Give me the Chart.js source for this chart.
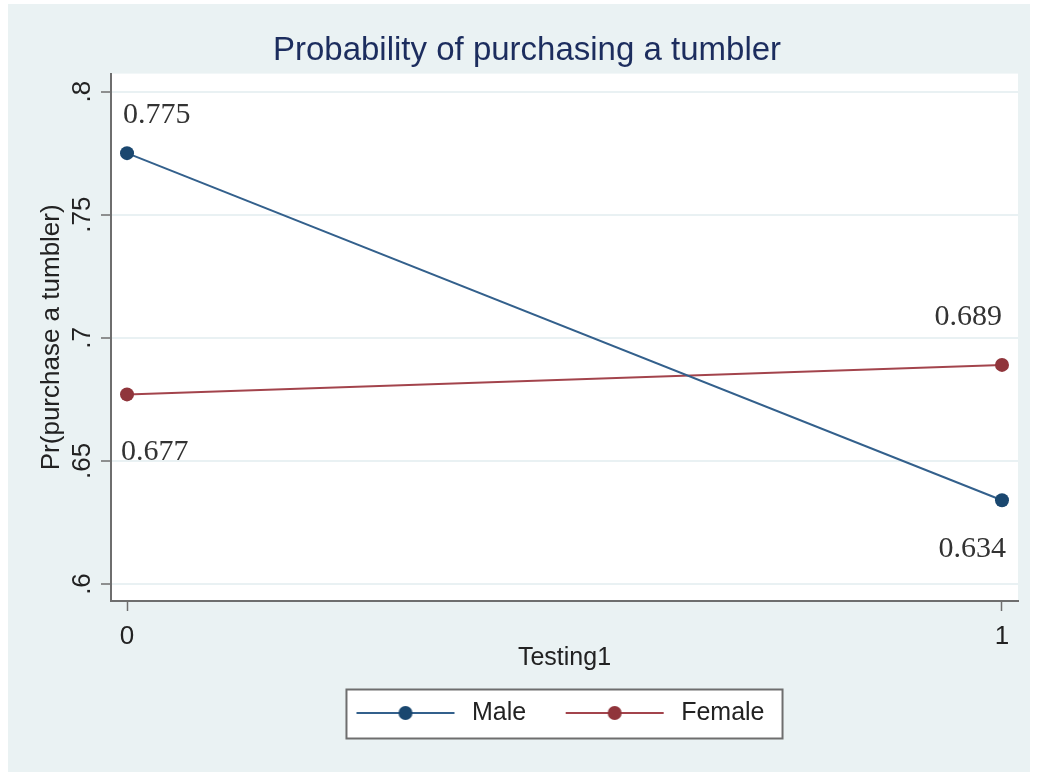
<!DOCTYPE html>
<html>
<head>
<meta charset="utf-8">
<title>Probability of purchasing a tumbler</title>
<script src="https://cdn.jsdelivr.net/npm/chart.js@4.4.1/dist/chart.umd.min.js"></script>
<style>
  html, body { margin: 0; padding: 0; background: #fff; }
  #wrap { position: absolute; left: 8px; top: 4px; width: 1022px; height: 768px; background: #eaf2f3; }
</style>
</head>
<body>
<div id="wrap"><canvas id="grafico" width="1022" height="768"></canvas></div>
<script>
// dados
const testing = [0, 1];
const maleValues = [0.775, 0.634];
const femaleValues = [0.677, 0.689];
const seriesNames = ['Male', 'Female'];
const yTicks = [0.6, 0.65, 0.7, 0.75, 0.8];
const yTickLabels = ['.6', '.65', '.7', '.75', '.8'];
const xTicks = [0, 1];
const xTickLabels = ['0', '1'];

// cores no estilo Stata
const markerColors = ['#1a476f', '#90353b'];
const lineColors = ['#33608c', '#a3444c'];
// posição dos rótulos de valor: [dx, dy, alinhamento]
const labelPlacement = [
  [[-4, -30, 'left'], [4, 57, 'right']],
  [[-6, 66, 'left'], [0, -40, 'right']]
];

Chart.defaults.font.family = '"Liberation Sans", Arial, sans-serif';

// ícone da legenda: linha com marcador no meio
function legendIcon(lineColor, dotColor) {
    const c = document.createElement('canvas');
    c.width = 123;
    c.height = 16;
    const g = c.getContext('2d');
    g.strokeStyle = lineColor;
    g.lineWidth = 2;
    g.beginPath();
    g.moveTo(20, 8);
    g.lineTo(118, 8);
    g.stroke();
    g.fillStyle = dotColor;
    g.beginPath();
    g.arc(69, 8, 7, 0, Math.PI * 2);
    g.fill();
    return c;
}
const legendIcons = [legendIcon(lineColors[0], markerColors[0]), legendIcon(lineColors[1], markerColors[1])];

// fundo branco da área do gráfico e caixa da legenda
const fundoPlugin = {
    id: 'fundo',
    afterLayout(chart) {
        // centraliza a legenda sob a área de plotagem
        chart.legend.left = chart.chartArea.left - 28;
        chart.legend.right = chart.chartArea.right;
    },
    beforeDraw(chart) {
        const { ctx, chartArea: a } = chart;
        ctx.save();
        ctx.fillStyle = '#fff';
        ctx.fillRect(a.left, a.top, a.right - a.left, a.bottom - a.top);
        const hb = chart.legend.legendHitBoxes;
        if (hb && hb.length) {
            const last = hb[hb.length - 1];
            const x0 = hb[0].left + 10, x1 = last.left + last.width + 18;
            const y0 = hb[0].top - 11, y1 = hb[0].top + hb[0].height + 13;
            ctx.fillRect(x0, y0, x1 - x0, y1 - y0);
            ctx.strokeStyle = '#6e6e6e';
            ctx.lineWidth = 2;
            ctx.strokeRect(x0, y0, x1 - x0, y1 - y0);
        }
        ctx.restore();
    }
};

// rótulos com os valores de cada ponto
const rotulosPlugin = {
    id: 'rotulos',
    afterDatasetsDraw(chart) {
        const ctx = chart.ctx;
        ctx.save();
        ctx.font = '30px "Liberation Serif", "Times New Roman", serif';
        ctx.fillStyle = '#333';
        ctx.textBaseline = 'alphabetic';
        chart.data.datasets.forEach((ds, d) => {
            chart.getDatasetMeta(d).data.forEach((pt, i) => {
                const [dx, dy, align] = labelPlacement[d][i];
                ctx.textAlign = align;
                ctx.fillText(ds.data[i].y.toFixed(3), pt.x + dx, pt.y + dy);
            });
        });
        ctx.restore();
    }
};

const eixoCor = '#6e6e6e';

const ctx = document.getElementById('grafico').getContext('2d');
const grafico = new Chart(ctx, {
    type: 'line',
    data: {
        datasets: [maleValues, femaleValues].map((vals, d) => ({
            label: seriesNames[d],
            data: testing.map((x, i) => ({ x: x, y: vals[i] })),
            borderColor: lineColors[d],
            borderWidth: 2,
            backgroundColor: markerColors[d],
            pointBackgroundColor: markerColors[d],
            pointBorderWidth: 0,
            pointRadius: 7,
            tension: 0,
            fill: false,
            clip: false
        }))
    },
    options: {
        responsive: false,
        animation: false,
        layout: { padding: { left: 28, right: 12, top: 0, bottom: 36.5 } },
        plugins: {
            title: {
                display: true,
                text: 'Probability of purchasing a tumbler',
                color: '#1c2d5e',
                font: { size: 33, weight: 'normal' },
                padding: { top: 27, bottom: 3 }
            },
            legend: {
                position: 'bottom',
                labels: {
                    usePointStyle: true,
                    pointStyleWidth: 123,
                    padding: 19.5,
                    color: '#222',
                    font: { size: 25 },
                    generateLabels(chart) {
                        const items = Chart.defaults.plugins.legend.labels.generateLabels(chart);
                        items.forEach((it, i) => { it.pointStyle = legendIcons[i]; });
                        return items;
                    }
                }
            },
            tooltip: { enabled: false }
        },
        scales: {
            x: {
                type: 'linear',
                min: -0.0183,
                max: 1.0183,
                afterBuildTicks: s => { s.ticks = xTicks.map(v => ({ value: v })); },
                afterFit: s => { s.height = 80; },
                ticks: {
                    callback: (v, i) => xTickLabels[i],
                    color: '#222',
                    font: { size: 26 },
                    padding: 10,
                    maxRotation: 0
                },
                grid: { drawOnChartArea: false, tickLength: 10, tickColor: eixoCor, tickWidth: 1.5 },
                border: { color: eixoCor, width: 2 },
                title: {
                    display: true,
                    text: 'Testing1',
                    color: '#222',
                    font: { size: 25 },
                    padding: { top: 0, bottom: 8 }
                }
            },
            y: {
                type: 'linear',
                min: 0.5931,
                max: 0.8073,
                afterBuildTicks: s => { s.ticks = yTicks.map(v => ({ value: v })); },
                afterFit: s => { s.width = 75; },
                ticks: {
                    callback: (v, i) => yTickLabels[i],
                    color: '#222',
                    font: { size: 26 },
                    minRotation: 90,
                    maxRotation: 90,
                    crossAlign: 'center',
                    padding: 0
                },
                grid: { color: '#e9f1f3', lineWidth: 2, tickLength: 10, tickColor: eixoCor, tickWidth: 1.5 },
                border: { color: eixoCor, width: 2 },
                title: {
                    display: true,
                    text: 'Pr(purchase a tumbler)',
                    color: '#222',
                    font: { size: 26 },
                    padding: { top: 0, bottom: 0 }
                }
            }
        }
    },
    plugins: [fundoPlugin, rotulosPlugin]
});
</script>
</body>
</html>
